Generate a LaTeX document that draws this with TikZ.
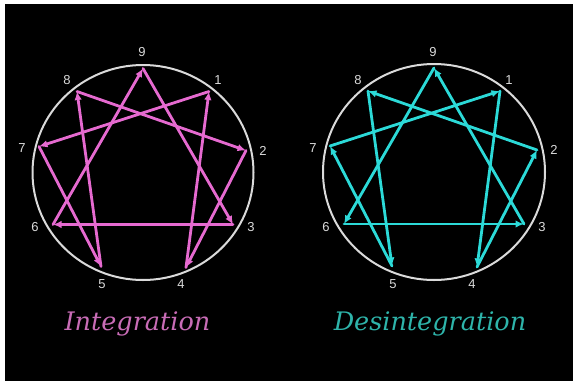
\documentclass[tikz,border=0pt]{standalone}
\usepackage{fontspec}
\setsansfont{Liberation Sans}
\newfontfamily\capfont{DejaVu Serif}
\usetikzlibrary{arrows.meta}
\definecolor{ringgray}{RGB}{218,218,218}
\definecolor{intpink}{RGB}{230,106,208}
\definecolor{desteal}{RGB}{44,218,216}
\definecolor{inttext}{RGB}{200,108,182}
\definecolor{destext}{RGB}{46,180,170}
\tikzset{every path/.style={line cap=round, line join=round},
  ring/.style={draw=ringgray, line width=2pt},
  num/.style={font=\sffamily\fontsize{13}{13}\selectfont, text=ringgray, inner sep=0pt},
  link/.style={line width=2.8pt, -{Latex[length=8.5pt, width=7.5pt]}},
  caption/.style={font=\capfont\itshape\fontsize{25.5}{25.5}\selectfont, inner sep=0pt, anchor=base}}

\begin{document}
\begin{tikzpicture}[x=1pt, y=-1pt]
    \fill [white] (0,0) rectangle (573,381);
    \fill [black] (5,4) rectangle (573,381);
    \useasboundingbox (0,0) rectangle (573,381);

    % the two rings with their nine points and numbers
    \foreach \side/\cx/\cy/\rx/\ry in {i/143/172.5/110.5/107.5, d/434/172/111/108} {
        \draw [ring] (\cx,\cy) ellipse [x radius=\rx pt, y radius=\ry pt];
        \foreach \n/\px/\py/\lx/\ly in {9/0/-104/-1/-120, 1/66/-81/75/-92, 2/103/-22/120/-22,
                3/90/52/108/55, 4/43/95/38/112, 5/-42/94/-41/112, 6/-90/52/-108/55,
                7/-104/-26/-121/-24, 8/-66/-81/-76/-92} {
            \coordinate (\side\n) at (\cx+\px, \cy+\py);
            \node [num] (\side lab\n) at (\cx+\lx, \cy+\ly) {\n};
        }
    }

    % lines of integration
    \foreach \a/\b in {1/7, 7/5, 5/8, 8/2, 2/4, 4/1, 9/3, 3/6, 6/9}
        \draw [link, intpink] (i\a) -- (i\b);
    % lines of desintegration
    \foreach \a/\b in {7/1, 5/7, 8/5, 2/8, 4/2, 1/4, 3/9, 6/3, 9/6}
        \draw [link, desteal] (d\a) -- (d\b);

    \node [caption, text=inttext] (intcap) at (137.5,330) {Integration};
    \node [caption, text=destext] (descap) at (430,330) {Desintegration};
\end{tikzpicture}
\end{document}
